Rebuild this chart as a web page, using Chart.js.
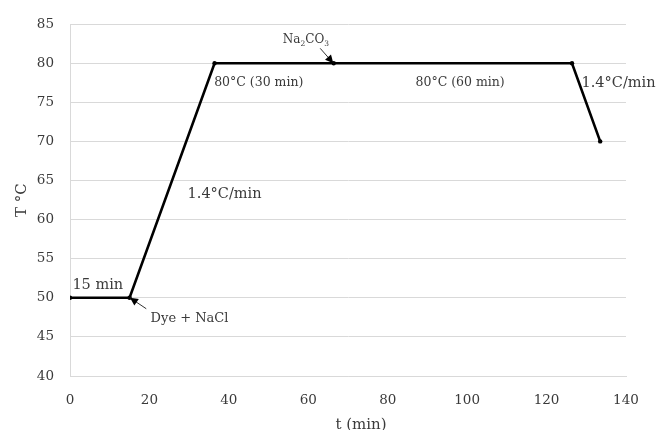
<!DOCTYPE html>
<html>
<head>
<meta charset="utf-8">
<script src="https://cdn.jsdelivr.net/npm/chart.js@4/dist/chart.umd.min.js"></script>
<style>
html,body{margin:0;padding:0;background:#fff;}
#wrap{width:659px;height:430px;}
</style>
</head>
<body>
<div id="wrap"><canvas id="c" width="659" height="430"></canvas></div>
<script>
// Time (min) and temperature (°C) of the dyeing profile
const timeMin = [0, 15, 36.4, 66.4, 126.4, 133.5];
const tempC   = [50, 50, 80, 80, 80, 70];
const xTicks  = [0, 20, 40, 60, 80, 100, 120, 140];
const yTicks  = [40, 45, 50, 55, 60, 65, 70, 75, 80, 85];

// Annotation texts anchored in data coordinates (x = left edge, y = middle)
const labelText = ["15 min", "Dye + NaCl", "80°C (30 min)", "1.4°C/min", "80°C (60 min)", "1.4°C/min"];
const labelX    = [0.6, 20.3, 36.3, 29.6, 87.0, 128.8];
const labelY    = [51.6, 47.3, 77.5, 63.2, 77.5, 77.5];
// Arrows: tail -> tip (data coordinates)
const arrowFromX = [19.2, 63.0];
const arrowFromY = [48.6, 81.9];
const arrowToX   = [15.1, 66.3];
const arrowToY   = [50.0, 80.0];

// styles (kept apart from the data)
const labelFontPx = [14.5, 13, 12.5, 14.5, 12.5, 14.5];
const SERIF = '"DejaVu Serif", "Liberation Serif", serif';
const TEXT = '#3a3a3a';

const annotPlugin = {
  id: 'annot',
  afterDatasetsDraw(chart) {
    const {ctx, scales: {x, y}, chartArea} = chart;
    ctx.save();
    ctx.fillStyle = TEXT;
    ctx.textBaseline = 'middle';
    ctx.textAlign = 'left';
    labelText.forEach((t, i) => {
      ctx.font = labelFontPx[i] + 'px ' + SERIF;
      ctx.fillText(t, x.getPixelForValue(labelX[i]), y.getPixelForValue(labelY[i]));
    });
    // Na2CO3 with subscripts
    let px = x.getPixelForValue(53.6), py = y.getPixelForValue(83.0);
    const parts = [["Na", false], ["2", true], ["CO", false], ["3", true]];
    parts.forEach(([s, sub]) => {
      ctx.font = (sub ? '7.5px ' : '12px ') + SERIF;
      ctx.fillText(s, px, py + (sub ? 4 : 0));
      px += ctx.measureText(s).width;
    });
    // x axis title
    ctx.font = '15px ' + SERIF;
    ctx.textAlign = 'center';
    ctx.fillText('t (min)', (chartArea.left + chartArea.right) / 2 + 13, 425);
    // arrows
    ctx.strokeStyle = '#333';
    ctx.fillStyle = '#000';
    ctx.lineWidth = 1;
    arrowFromX.forEach((fx, i) => {
      const x0 = x.getPixelForValue(fx), y0 = y.getPixelForValue(arrowFromY[i]);
      const x1 = x.getPixelForValue(arrowToX[i]), y1 = y.getPixelForValue(arrowToY[i]);
      const ang = Math.atan2(y1 - y0, x1 - x0);
      ctx.beginPath(); ctx.moveTo(x0, y0); ctx.lineTo(x1, y1); ctx.stroke();
      const L = 8, W = 4;
      ctx.beginPath();
      ctx.moveTo(x1, y1);
      ctx.lineTo(x1 - L*Math.cos(ang) + W*Math.sin(ang), y1 - L*Math.sin(ang) - W*Math.cos(ang));
      ctx.lineTo(x1 - L*Math.cos(ang) - W*Math.sin(ang), y1 - L*Math.sin(ang) + W*Math.cos(ang));
      ctx.closePath(); ctx.fill();
    });
    ctx.restore();
  }
};

new Chart(document.getElementById('c'), {
  type: 'scatter',
  data: {
    datasets: [{
      data: timeMin.map((t, i) => ({x: t, y: tempC[i]})),
      showLine: true,
      borderColor: '#000',
      backgroundColor: '#000',
      borderWidth: 2.6,
      pointRadius: 2.2,
      pointBorderWidth: 0,
      tension: 0
    }]
  },
  options: {
    responsive: false,
    animation: false,
    layout: {padding: {left: 0, top: 18, right: 33, bottom: 0}},
    plugins: {legend: {display: false}, tooltip: {enabled: false}},
    scales: {
      x: {
        type: 'linear', min: 0, max: 140,
        afterBuildTicks: s => { s.ticks = xTicks.map(v => ({value: v})); },
        afterFit: s => { s.height = 54; },
        grid: {display: false, drawTicks: false},
        border: {display: true, color: '#d9d9d9', width: 1},
        ticks: {color: TEXT, font: {family: SERIF, size: 13.5}, padding: 16, maxRotation: 0},
        title: {display: false}
      },
      y: {
        type: 'linear', min: 40, max: 85,
        afterBuildTicks: s => { s.ticks = yTicks.map(v => ({value: v})); },
        afterFit: s => { s.width = 70; },
        grid: {color: '#d9d9d9', lineWidth: 1, drawTicks: false},
        border: {display: true, color: '#d9d9d9', width: 1},
        ticks: {color: TEXT, font: {family: SERIF, size: 13.5}, padding: 16},
        title: {display: true, text: 'T °C', color: TEXT, font: {family: SERIF, size: 15}, padding: {top: 13, bottom: 0}}
      }
    }
  },
  plugins: [annotPlugin]
});
</script>
</body>
</html>
